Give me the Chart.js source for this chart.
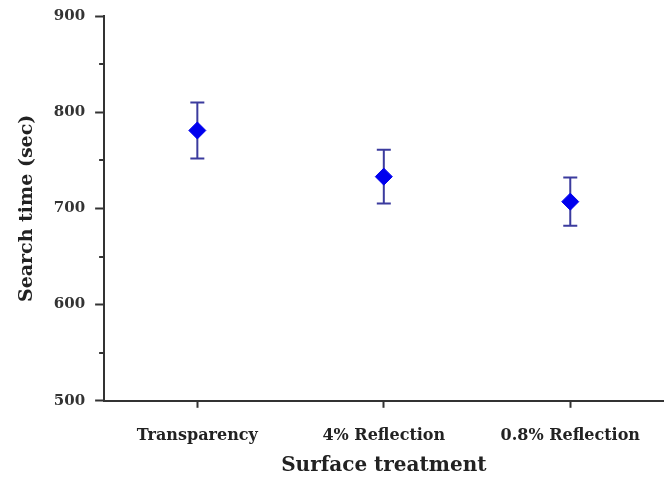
<!DOCTYPE html>
<html>
<head>
<meta charset="utf-8">
<script src="https://cdn.jsdelivr.net/npm/chart.js@4.4.1/dist/chart.umd.min.js"></script>
<style>
  html, body { margin: 0; padding: 0; background: #fff; overflow: hidden; }
  #wrap { width: 673px; height: 480px; }
</style>
</head>
<body>
<div id="wrap"><canvas id="c"></canvas></div>
<script>
// Data
const categories = ['Transparency', '4% Reflection', '0.8% Reflection'];
const searchTime = [781, 733, 707];
const searchErr  = [29, 28, 25];

const axisColor = '#333333';
const serif = "'DejaVu Serif', 'Liberation Serif', serif";

// Error bars + minor y ticks, drawn through the chart's scales
const errorBarPlugin = {
  id: 'errorBars',
  beforeDatasetsDraw(chart) {
    const { ctx: c, scales: { x, y } } = chart;
    c.save();
    c.strokeStyle = '#3b3b9e';
    c.lineWidth = 2;
    searchTime.forEach((v, i) => {
      const px = x.getPixelForValue(i);
      const top = y.getPixelForValue(v + searchErr[i]);
      const bot = y.getPixelForValue(v - searchErr[i]);
      c.beginPath();
      c.moveTo(px, top); c.lineTo(px, bot);
      c.moveTo(px - 7, top); c.lineTo(px + 7, top);
      c.moveTo(px - 7, bot); c.lineTo(px + 7, bot);
      c.stroke();
    });
    c.restore();
  },
  afterDraw(chart) {
    const { ctx: c, scales: { y } } = chart;
    const ticks = y.ticks;
    c.save();
    c.strokeStyle = axisColor;
    c.lineWidth = 2;
    for (let i = 0; i < ticks.length - 1; i++) {
      const mid = (ticks[i].value + ticks[i + 1].value) / 2;
      const py = Math.round(y.getPixelForValue(mid));
      c.beginPath();
      c.moveTo(y.right - 5, py);
      c.lineTo(y.right, py);
      c.stroke();
    }
    c.restore();
  }
};

new Chart(document.getElementById('c'), {
  type: 'line',
  data: {
    labels: categories,
    datasets: [{
      data: searchTime,
      showLine: false,
      pointStyle: 'rectRot',
      pointRadius: 8.5,
      pointHoverRadius: 8.5,
      pointBackgroundColor: '#0000ee',
      pointBorderColor: '#0000ee',
      pointBorderWidth: 1,
    }]
  },
  options: {
    responsive: true,
    maintainAspectRatio: false,
    animation: false,
    layout: { padding: { top: 16, right: 0, left: 16, bottom: 0 } },
    plugins: {
      legend: { display: false },
      tooltip: { enabled: false },
    },
    scales: {
      x: {
        offset: true,
        grid: { display: true, drawOnChartArea: false, tickLength: 7, color: axisColor, tickWidth: 2 },
        border: { color: axisColor, width: 2 },
        ticks: { color: '#222', padding: 18, font: { family: serif, size: 16, weight: 'bold' } },
        title: {
          display: true,
          text: 'Surface treatment',
          color: '#222',
          padding: { top: -9, bottom: 2 },
          font: { family: serif, size: 20, weight: 'bold' },
        },
      },
      y: {
        min: 500,
        max: 900,
        afterFit: (s) => { s.paddingTop = 0; },
        ticks: { stepSize: 100, color: '#333', padding: 10, font: { family: serif, size: 15, weight: 'bold' } },
        grid: { display: true, drawOnChartArea: false, tickLength: 9, color: axisColor, tickWidth: 2 },
        border: { color: axisColor, width: 2 },
        title: {
          display: true,
          text: 'Search time (sec)',
          color: '#222',
          padding: { top: 0, bottom: 5 },
          font: { family: serif, size: 19, weight: 'bold' },
        },
      },
    },
  },
  plugins: [errorBarPlugin],
});
</script>
</body>
</html>
